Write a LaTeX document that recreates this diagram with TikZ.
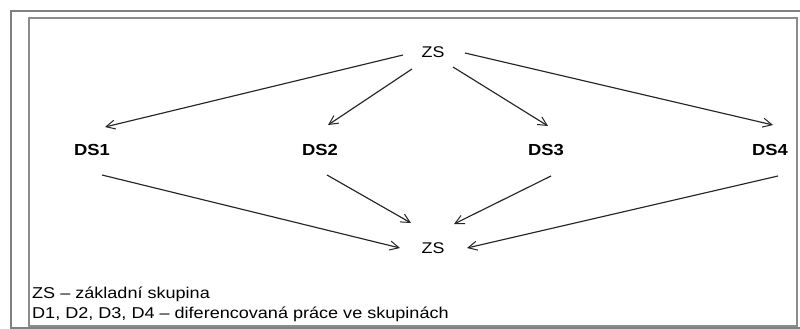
\documentclass[tikz,border=0pt]{standalone}
\usepackage{fontspec}
\setmainfont{Liberation Sans}[FakeStretch=1.15]
\usetikzlibrary{arrows.meta,calc}
\begin{document}
\begin{tikzpicture}[x=1pt,y=-1pt,
  lbl/.style={inner sep=0pt,font=\fontsize{15.5}{18}\selectfont,text=black},
  dslbl/.style={inner sep=0pt,font=\fontsize{16}{19}\selectfont\bfseries,text=black},
  legend/.style={inner sep=0pt,anchor=base west,font=\fontsize{15.7}{18}\selectfont,text=black},
  arr/.style={draw=black!85,line width=1.15pt,-{Straight Barb[length=9pt,width=9pt,line width=1pt]}},
  outerframe/.style={draw=black!50,line width=2.5pt},
  innerframe/.style={draw=black!45,line width=1.3pt}]
\useasboundingbox (0,0) rectangle (800,329);
\fill[white] (0,0) rectangle (800,329);
\draw[outerframe] (801,11) -- (11,11) -- (11,328) -- (801,328);
\draw[innerframe] (29,18) rectangle (797,326);

\node[lbl] (zs1) at (433,52) {ZS};
\node[dslbl] (ds1) at (92,150) {DS1};
\node[dslbl] (ds2) at (320,150) {DS2};
\node[dslbl] (ds3) at (546,150) {DS3};
\node[dslbl] (ds4) at (770,150) {DS4};
\node[lbl] (zs2) at (433,248) {ZS};

\draw[arr] ($(zs1)+(-30,3)$) -- ($(ds1)+(13,-23)$);
\draw[arr] ($(zs1)+(-21,17)$) -- ($(ds2)+(8,-25)$);
\draw[arr] ($(zs1)+(20,15)$) -- ($(ds3)+(2,-24)$);
\draw[arr] ($(zs1)+(32,1)$) -- ($(ds4)+(3,-25)$);

\draw[arr] ($(ds1)+(10,25)$) -- ($(zs2)+(-33,0)$);
\draw[arr] ($(ds2)+(7,25)$) -- ($(zs2)+(-22,-25)$);
\draw[arr] ($(ds3)+(5,26)$) -- ($(zs2)+(21,-24)$);
\draw[arr] ($(ds4)+(8,26)$) -- ($(zs2)+(34,0)$);

\node[legend] (leg1) at (32,298.5) {ZS – základní skupina};
\node[legend] (leg2) at (32,318.5) {D1, D2, D3, D4 – diferencovaná práce ve skupinách};
\end{tikzpicture}
\end{document}
